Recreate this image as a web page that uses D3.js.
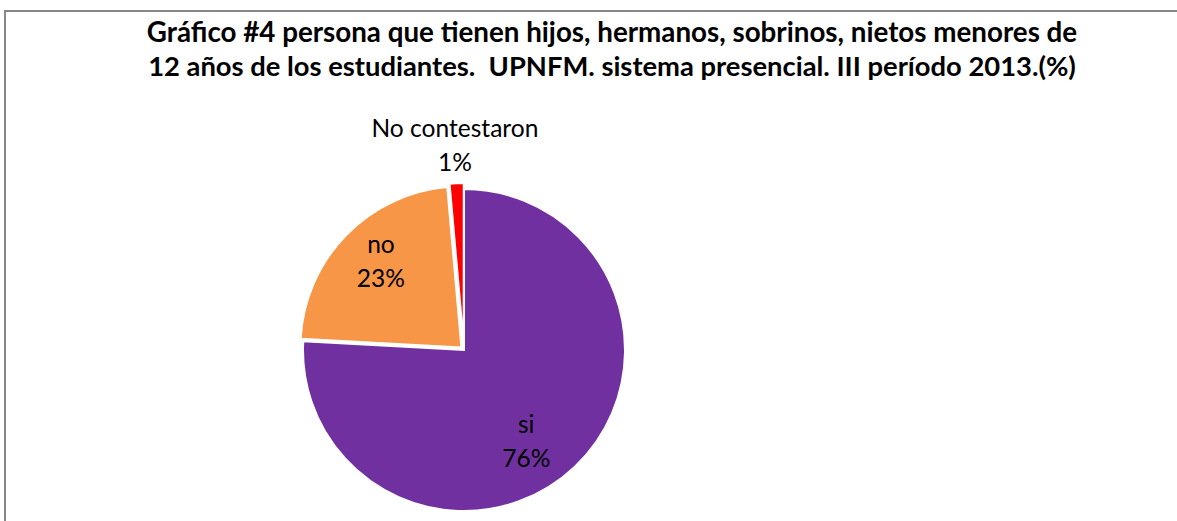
<!DOCTYPE html>
<html>
<head>
<meta charset="utf-8">
<script src="https://cdn.jsdelivr.net/npm/d3@7"></script>
<style>
  html, body { margin: 0; padding: 0; background: #fff; overflow: hidden; }
  svg { display: block; }
  text { white-space: pre; }
</style>
</head>
<body>
<svg id="chart" width="1177" height="521"></svg>
<script>
// ---- data ----
const titleLines = [
  "Gráfico #4 persona que tienen hijos, hermanos, sobrinos, nietos menores de",
  "12 años de los estudiantes.  UPNFM. sistema presencial. III período 2013.(%)"
];
const categories = ["si", "no", "No contestaron"];
const values = [75.8, 22.7, 1.4];

// ---- styles ----
const colors = { "si": "#7030A0", "no": "#F79646", "No contestaron": "#FF0000" };
const explode = { "si": 0, "no": 3.6, "No contestaron": 6 };
const labelRadius = { "si": 0.68, "no": 0.73, "No contestaron": 1.24 };
const labelNudge = { "si": [-13, 12], "no": [4, -4], "No contestaron": [0, 1] };

const svg = d3.select("#chart");
const W = 1177, H = 521;

// chart area border (extends past the right/bottom edges)
svg.append("rect")
  .attr("x", 5).attr("y", 11)
  .attr("width", W + 20).attr("height", H + 20)
  .attr("fill", "#fff")
  .attr("stroke", "#868686").attr("stroke-width", 2);

// title
const titleFont = "Lato, 'Open Sans', sans-serif";
const title = svg.append("g");
const titleTargets = [931, 928];
const titleBaselines = [42, 76];
titleLines.forEach((t, i) => {
  const el = title.append("text")
    .attr("x", 612).attr("y", titleBaselines[i])
    .attr("text-anchor", "middle")
    .attr("xml:space", "preserve")
    .attr("font-family", titleFont)
    .attr("font-weight", "bold")
    .attr("font-size", 22)
    .attr("fill", "#000")
    .text(t);
  const w = el.node().getComputedTextLength();
  el.attr("font-size", 22 * titleTargets[i] / w);
});

// pie
const cx = 464, cy = 350, R = 161;
const pie = d3.pie().sort(null).value(d => d.value);
const data = categories.map((c, i) => ({ cat: c, value: values[i] }));
const arcs = pie(data);
const total = d3.sum(values);
const arc = d3.arc().innerRadius(0).outerRadius(R);

const g = svg.append("g").attr("transform", `translate(${cx},${cy})`);

function offsetOf(d) {
  const a = (d.startAngle + d.endAngle) / 2;
  const e = explode[d.data.cat];
  return [e * Math.sin(a), -e * Math.cos(a)];
}

g.selectAll("path.slice")
  .data(arcs)
  .join("path")
  .attr("class", "slice")
  .attr("d", arc)
  .attr("transform", d => { const o = offsetOf(d); return `translate(${o[0]},${o[1]})`; })
  .attr("fill", d => colors[d.data.cat])
  .attr("stroke", "#fff")
  .attr("stroke-width", 2)
  .attr("stroke-linejoin", "miter");

// labels
const labelFont = "Lato, 'Open Sans', sans-serif";
const labels = g.selectAll("g.lbl")
  .data(arcs)
  .join("g")
  .attr("class", "lbl")
  .attr("transform", d => {
    const r = R * labelRadius[d.data.cat];
    const la = d3.arc().innerRadius(r).outerRadius(r);
    const c = la.centroid(d);
    const o = offsetOf(d);
    const n = labelNudge[d.data.cat];
    return `translate(${c[0] + o[0] + n[0]},${c[1] + o[1] + n[1]})`;
  });

let labelSize = 24;
labels.each(function(d) {
  const sel = d3.select(this);
  sel.append("text")
    .attr("y", -17)
    .attr("dy", "0.35em")
    .text(d.data.cat);
  sel.append("text")
    .attr("y", 17)
    .attr("dy", "0.35em")
    .text(Math.round(d.data.value / total * 100) + "%");
});
labels.selectAll("text")
  .attr("text-anchor", "middle")
  .attr("font-family", labelFont)
  .attr("font-size", labelSize)
  .attr("fill", "#000");

// calibrate label font size to the reference width of "No contestaron"
const ref = labels.filter(d => d.data.cat === "No contestaron").select("text").node();
const wRef = ref.getComputedTextLength();
labelSize = labelSize * 167 / wRef;
labels.selectAll("text").attr("font-size", labelSize);
</script>
</body>
</html>
